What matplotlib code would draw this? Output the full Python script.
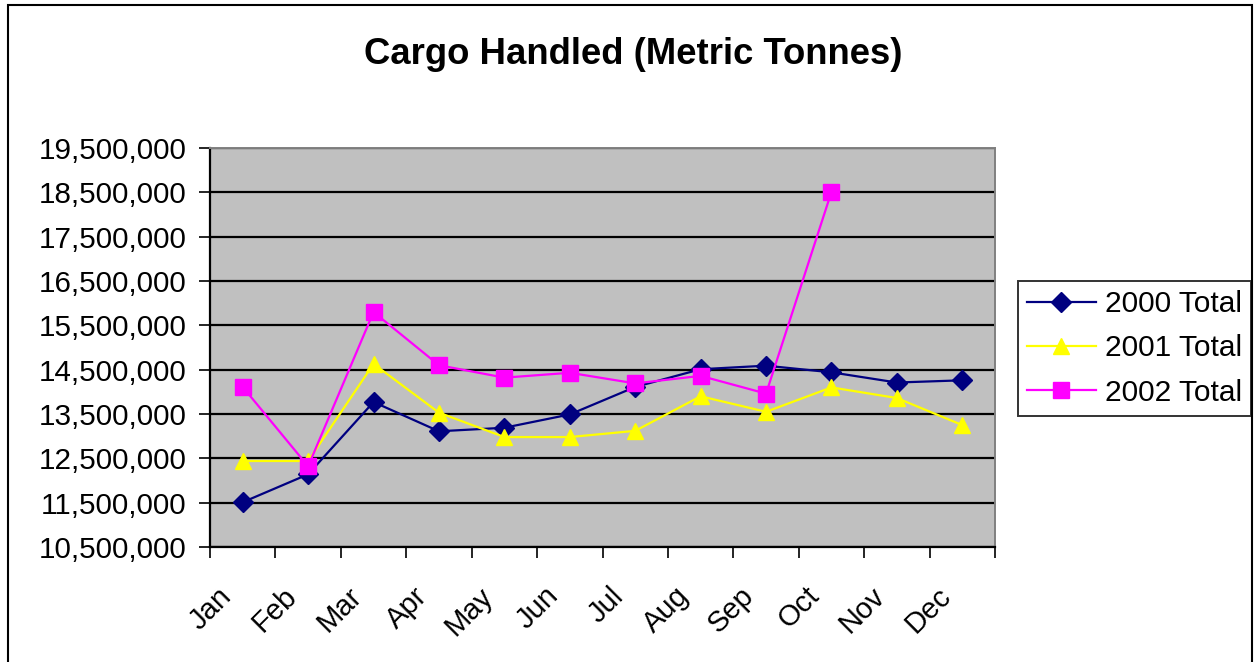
import numpy as np
import matplotlib
matplotlib.use("Agg")
import matplotlib.pyplot as plt
import matplotlib.transforms as mtrans
from matplotlib.patches import Rectangle
from matplotlib.ticker import FuncFormatter

plt.rcParams["font.family"] = ["Liberation Sans", "DejaVu Sans"]

months = ["Jan", "Feb", "Mar", "Apr", "May", "Jun",
          "Jul", "Aug", "Sep", "Oct", "Nov", "Dec"]
total_2000 = [11510000, 12140000, 13770000, 13110000, 13190000, 13490000,
              14110000, 14510000, 14590000, 14440000, 14210000, 14260000]
total_2001 = [12440000, 12440000, 14630000, 13530000, 12980000, 12980000,
              13120000, 13900000, 13550000, 14100000, 13860000, 13250000]
total_2002 = [14110000, 12320000, 15800000, 14600000, 14320000, 14430000,
              14190000, 14360000, 13960000, 18510000]
y_ticks = np.arange(10500000, 19500001, 1000000)

fig = plt.figure(figsize=(12.57, 6.62), dpi=100)
ax = fig.add_axes([210 / 1257, 1 - 547 / 662, 785 / 1257, 399 / 662])
ax.set_facecolor("#C0C0C0")

x = np.arange(len(months))
ax.plot(x, total_2000, color="#000080", lw=1.6, marker="D", ms=10,
        label="2000 Total", zorder=3)
ax.plot(x, total_2001, color="#FFFF00", lw=1.6, marker="^", ms=12,
        label="2001 Total", zorder=3)
ax.plot(x[:len(total_2002)], total_2002, color="#FF00FF", lw=1.6, marker="s",
        ms=11, label="2002 Total", zorder=3)

ax.set_xlim(-0.5, 11.5)
ax.set_ylim(y_ticks[0], y_ticks[-1])
ax.set_yticks(y_ticks)
ax.yaxis.set_major_formatter(FuncFormatter(lambda v, p: f"{v:,.0f}"))
ax.grid(axis="y", color="black", lw=1.6, zorder=1)
ax.set_axisbelow(True)

ax.set_xticks(np.arange(-0.5, 12, 1))
ax.set_xticklabels([])
ax.set_xticks(x, minor=True)
ax.set_xticklabels(months, minor=True, rotation=45, ha="right",
                   rotation_mode="anchor", fontsize=21)
ax.tick_params(axis="x", which="minor", length=0, pad=25)
ax.tick_params(axis="x", which="major", length=8, width=1.2, direction="out")
ax.tick_params(axis="y", length=8, width=1.2, labelsize=21.3, pad=9)
# shift the month labels a bit left, like the original
shift = mtrans.ScaledTranslation(-0.26, 0, fig.dpi_scale_trans)
for lab in ax.get_xticklabels(minor=True):
    lab.set_transform(lab.get_transform() + shift)

for s in ["left", "bottom"]:
    ax.spines[s].set_color("black")
    ax.spines[s].set_linewidth(1.6)
for s in ["top", "right"]:
    ax.spines[s].set_color("#808080")
    ax.spines[s].set_linewidth(1.4)

fig.text(633 / 1257, 1 - 55 / 662, "Cargo Handled (Metric Tonnes)",
         ha="center", va="center", fontsize=26.3, fontweight="bold")

leg = fig.legend(loc="upper left", bbox_to_anchor=(1018 / 1257, 1 - 281 / 662),
                 borderaxespad=0, fontsize=21.5, frameon=True, fancybox=False,
                 handlelength=2.3, labelspacing=0.55, borderpad=0.3,
                 handletextpad=0.3)
leg.get_frame().set_edgecolor("black")
leg.get_frame().set_linewidth(1.4)

fig.patches.append(Rectangle((8 / 1257, -0.02), 1244 / 1257, 1.02 - 5 / 662,
                             transform=fig.transFigure, fill=False,
                             edgecolor="black", lw=1.5))

fig.savefig("out.png", dpi=100)
